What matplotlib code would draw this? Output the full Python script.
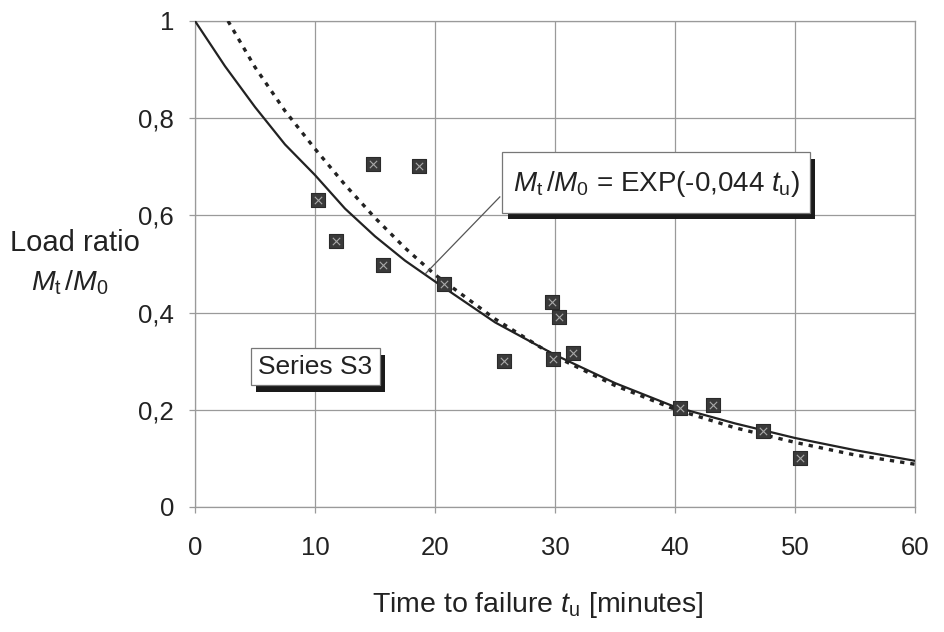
import matplotlib
matplotlib.use("Agg")
import matplotlib.pyplot as plt
from matplotlib.patches import Rectangle

plt.rcParams['font.family'] = ['Liberation Sans', 'DejaVu Sans']
plt.rcParams['mathtext.fontset'] = 'custom'
plt.rcParams['mathtext.rm'] = 'Liberation Sans'
plt.rcParams['mathtext.it'] = 'Liberation Sans:italic'

# Measured data points (time to failure [min], load ratio)
t_data = [10.25, 11.75, 14.8, 15.7, 18.7, 20.75, 25.75, 29.75, 30.3, 29.8, 31.5, 40.4, 43.2, 47.3, 50.4]
m_data = [0.632, 0.547, 0.706, 0.498, 0.702, 0.459, 0.300, 0.422, 0.391, 0.305, 0.317, 0.204, 0.210, 0.156, 0.100]

# Solid curve
t_solid = [0, 2.5, 5, 7.5, 10, 12.5, 15, 17.5, 20, 25, 30, 35, 40, 45, 50, 55, 60]
m_solid = [1.0, 0.907, 0.823, 0.746, 0.683, 0.614, 0.557, 0.507, 0.464, 0.380, 0.313, 0.255, 0.206, 0.172, 0.142, 0.117, 0.095]

# Dashed curve
t_dash = [2.75, 5, 7.5, 10, 12.5, 15, 17.5, 20, 25, 30, 35, 40, 45, 50, 55, 60]
m_dash = [1.0, 0.905, 0.815, 0.737, 0.663, 0.595, 0.533, 0.478, 0.387, 0.310, 0.250, 0.201, 0.163, 0.133, 0.107, 0.088]

x_ticks = [0, 10, 20, 30, 40, 50, 60]
y_ticks = [0, 0.2, 0.4, 0.6, 0.8, 1.0]
y_ticklabels = ['0', '0,2', '0,4', '0,6', '0,8', '1']

fig = plt.figure(figsize=(9.45, 6.32), dpi=100)
ax = fig.add_axes([195/945, 1-507/632, (915-195)/945, (507-21)/632])

ax.set_xlim(0, 60)
ax.set_ylim(0, 1)
ax.set_xticks(x_ticks)
ax.set_xticklabels([str(v) for v in x_ticks])
ax.set_yticks(y_ticks)
ax.set_yticklabels(y_ticklabels)
ax.grid(True, color='#9a9a9a', linewidth=0.9)
for s in ax.spines.values():
    s.set_color('#9a9a9a')
    s.set_linewidth(0.9)
ax.tick_params(axis='both', colors='#9a9a9a', labelcolor='#222222', labelsize=18.5, length=4, width=0.9)
ax.tick_params(axis='x', pad=17)
ax.tick_params(axis='y', pad=11)

ax.plot(t_solid, m_solid, color='#222222', lw=1.6, zorder=3, solid_joinstyle='round')
ax.plot(t_dash, m_dash, color='#222222', lw=2.4, dashes=(1.3, 1.8), zorder=3)

ax.scatter(t_data, m_data, marker='s', s=115, facecolor='#3a3a3a', edgecolor='#2a2a2a', linewidths=0.8, zorder=4)
ax.scatter(t_data, m_data, marker='x', s=28, color='#a8a8a8', linewidths=0.8, zorder=5)

# Annotation leader line
ax.plot([25.4, 19.2], [0.638, 0.480], color='#555555', lw=0.9, zorder=3)

def shadow_box(x0, y0, x1, y1, dx, dy):
    ax.add_patch(Rectangle((x0 + dx, y0 - dy), x1 - x0, y1 - y0, facecolor='#1a1a1a', edgecolor='none', zorder=6))
    ax.add_patch(Rectangle((x0, y0), x1 - x0, y1 - y0, facecolor='white', edgecolor='#777777', lw=0.9, zorder=7))

# equation box (data coords)
shadow_box(25.6, 0.605, 51.25, 0.730, 0.45, 0.013)
ax.text((25.6 + 51.25) / 2, 0.664, r'$M_\mathrm{t}\,/M_\mathrm{0}$ = EXP(-0,044 $t_\mathrm{u}$)',
        ha='center', va='center', fontsize=20, color='#222222', zorder=8)

# series box
shadow_box(4.67, 0.251, 15.42, 0.327, 0.4, 0.014)
ax.text((4.67 + 15.42) / 2, 0.289, 'Series S3', ha='center', va='center', fontsize=19, color='#222222', zorder=8)

fig.text(10/945, 1-243/632, 'Load ratio', ha='left', va='center', fontsize=21, color='#222222')
fig.text(70/945, 1-283/632, r'$M_\mathrm{t}\,/M_\mathrm{0}$', ha='center', va='center', fontsize=20.5, color='#222222')
fig.text(538/945, 1-605/632, r'Time to failure $t_\mathrm{u}$ [minutes]', ha='center', va='center', fontsize=20.5, color='#222222')

fig.savefig('out.png', dpi=100, facecolor='white')
